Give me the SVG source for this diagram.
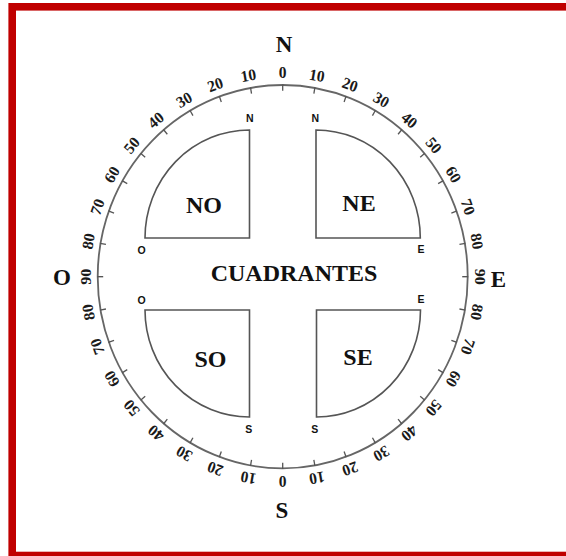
<svg xmlns="http://www.w3.org/2000/svg" xmlns:xlink="http://www.w3.org/1999/xlink" width="566" height="556" viewBox="0 0 566 556">
<style>
.deg{font-family:"Liberation Serif","Times New Roman",serif;font-size:15.5px;font-weight:bold;fill:#1a1a1a;text-anchor:middle}
.card{font-family:"Liberation Serif","Times New Roman",serif;font-size:23px;font-weight:bold;fill:#111;text-anchor:middle}
.quad{font-family:"Liberation Serif","Times New Roman",serif;font-size:24px;font-weight:bold;fill:#111;text-anchor:middle}
.small{font-family:"Liberation Sans",Arial,sans-serif;font-size:10.5px;font-weight:bold;fill:#111;text-anchor:middle}
.shape{fill:none;stroke:#555;stroke-width:1.6;stroke-linejoin:miter}
.tick{stroke:#555;stroke-width:1.3}
</style>
<defs>
<line id="tk" class="tick" x1="0" y1="-179.5" x2="0" y2="-185.5"/>
</defs>
<rect width="566" height="556" fill="#fff"/>
<rect id="frame" x="12.2" y="6.8" width="600" height="548.7" fill="none" stroke="#C00000" stroke-width="7.6"/>

<g id="ring" transform="translate(282.7,276.7) scale(1,1.0362)">
<circle r="185" fill="none" stroke="#666" stroke-width="1.8"/>
<use href="#tk" transform="rotate(0)"/><use href="#tk" transform="rotate(10)"/><use href="#tk" transform="rotate(20)"/><use href="#tk" transform="rotate(30)"/><use href="#tk" transform="rotate(40)"/><use href="#tk" transform="rotate(50)"/><use href="#tk" transform="rotate(60)"/><use href="#tk" transform="rotate(70)"/><use href="#tk" transform="rotate(80)"/><use href="#tk" transform="rotate(90)"/><use href="#tk" transform="rotate(100)"/><use href="#tk" transform="rotate(110)"/><use href="#tk" transform="rotate(120)"/><use href="#tk" transform="rotate(130)"/><use href="#tk" transform="rotate(140)"/><use href="#tk" transform="rotate(150)"/><use href="#tk" transform="rotate(160)"/><use href="#tk" transform="rotate(170)"/><use href="#tk" transform="rotate(180)"/><use href="#tk" transform="rotate(190)"/><use href="#tk" transform="rotate(200)"/><use href="#tk" transform="rotate(210)"/><use href="#tk" transform="rotate(220)"/><use href="#tk" transform="rotate(230)"/><use href="#tk" transform="rotate(240)"/><use href="#tk" transform="rotate(250)"/><use href="#tk" transform="rotate(260)"/><use href="#tk" transform="rotate(270)"/><use href="#tk" transform="rotate(280)"/><use href="#tk" transform="rotate(290)"/><use href="#tk" transform="rotate(300)"/><use href="#tk" transform="rotate(310)"/><use href="#tk" transform="rotate(320)"/><use href="#tk" transform="rotate(330)"/><use href="#tk" transform="rotate(340)"/><use href="#tk" transform="rotate(350)"/>
<g id="degrees">
<text class="deg" transform="rotate(0) translate(0,-197)" y="5">0</text>
<text class="deg" transform="rotate(10) translate(0,-197)" y="5">10</text>
<text class="deg" transform="rotate(20) translate(0,-197)" y="5">20</text>
<text class="deg" transform="rotate(30) translate(0,-197)" y="5">30</text>
<text class="deg" transform="rotate(40) translate(0,-197)" y="5">40</text>
<text class="deg" transform="rotate(50) translate(0,-197)" y="5">50</text>
<text class="deg" transform="rotate(60) translate(0,-197)" y="5">60</text>
<text class="deg" transform="rotate(70) translate(0,-197)" y="5">70</text>
<text class="deg" transform="rotate(80) translate(0,-197)" y="5">80</text>
<text class="deg" transform="rotate(90) translate(0,-197)" y="5">90</text>
<text class="deg" transform="rotate(100) translate(0,-197)" y="5">80</text>
<text class="deg" transform="rotate(110) translate(0,-197)" y="5">70</text>
<text class="deg" transform="rotate(120) translate(0,-197)" y="5">60</text>
<text class="deg" transform="rotate(130) translate(0,-197)" y="5">50</text>
<text class="deg" transform="rotate(140) translate(0,-197)" y="5">40</text>
<text class="deg" transform="rotate(150) translate(0,-197)" y="5">30</text>
<text class="deg" transform="rotate(160) translate(0,-197)" y="5">20</text>
<text class="deg" transform="rotate(170) translate(0,-197)" y="5">10</text>
<text class="deg" transform="rotate(180) translate(0,-197)" y="5">0</text>
<text class="deg" transform="rotate(190) translate(0,-197)" y="5">10</text>
<text class="deg" transform="rotate(200) translate(0,-197)" y="5">20</text>
<text class="deg" transform="rotate(210) translate(0,-197)" y="5">30</text>
<text class="deg" transform="rotate(220) translate(0,-197)" y="5">40</text>
<text class="deg" transform="rotate(230) translate(0,-197)" y="5">50</text>
<text class="deg" transform="rotate(240) translate(0,-197)" y="5">60</text>
<text class="deg" transform="rotate(250) translate(0,-197)" y="5">70</text>
<text class="deg" transform="rotate(260) translate(0,-197)" y="5">80</text>
<text class="deg" transform="rotate(270) translate(0,-197)" y="5">90</text>
<text class="deg" transform="rotate(280) translate(0,-197)" y="5">80</text>
<text class="deg" transform="rotate(290) translate(0,-197)" y="5">70</text>
<text class="deg" transform="rotate(300) translate(0,-197)" y="5">60</text>
<text class="deg" transform="rotate(310) translate(0,-197)" y="5">50</text>
<text class="deg" transform="rotate(320) translate(0,-197)" y="5">40</text>
<text class="deg" transform="rotate(330) translate(0,-197)" y="5">30</text>
<text class="deg" transform="rotate(340) translate(0,-197)" y="5">20</text>
<text class="deg" transform="rotate(350) translate(0,-197)" y="5">10</text>
</g>
</g>

<g id="cardinals">
<text class="card" x="284" y="52">N</text>
<text class="card" x="282" y="518">S</text>
<text class="card" x="62" y="285">O</text>
<text class="card" x="498.5" y="287" font-weight="normal">E</text>
</g>

<g id="quad-NO">
<path class="shape" d="M249.5,130 L249.5,238 L145,238 A104.5,108 0 0 1 249.5,130 Z"/>
<text class="quad" x="204" y="213">NO</text>
<text class="small" x="249.7" y="122">N</text>
<text class="small" x="141.7" y="254">O</text>
</g>
<g id="quad-NE">
<path class="shape" d="M316,130 L316,238 L420.3,238 A104.3,108 0 0 0 316,130 Z"/>
<text class="quad" x="359" y="211">NE</text>
<text class="small" x="315.3" y="122">N</text>
<text class="small" x="421" y="253">E</text>
</g>
<g id="quad-SO">
<path class="shape" d="M249.5,310 L145,310 A104.5,107 0 0 0 249.5,417 Z"/>
<text class="quad" x="210.5" y="367">SO</text>
<text class="small" x="141.7" y="304">O</text>
<text class="small" x="248.7" y="433">S</text>
</g>
<g id="quad-SE">
<path class="shape" d="M316.5,417 L316.5,310 L420.5,310 A104,107 0 0 1 316.5,417 Z"/>
<text class="quad" x="358" y="365">SE</text>
<text class="small" x="421" y="303">E</text>
<text class="small" x="314.7" y="433">S</text>
</g>

<g id="center-label">
<text class="quad" x="294" y="281">CUADRANTES</text>
</g>
<g id="connectors"/>
</svg>
